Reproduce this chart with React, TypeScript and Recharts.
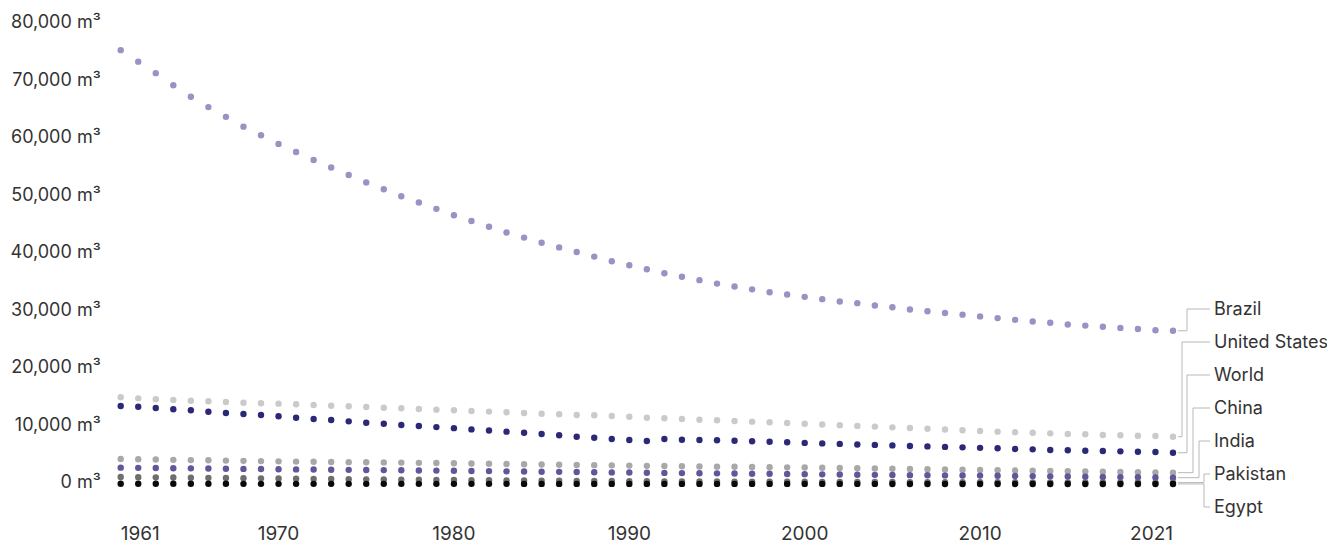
import React from 'react';
import { LineChart, Line, XAxis, YAxis } from 'recharts';

const years: number[] = Array.from({ length: 61 }, (_, i) => 1961 + i);

const brazil = [
  75450, 73450, 71450, 69350, 67350, 65550, 63850, 62150, 60650, 59150,
  57750, 56350, 55050, 53750, 52450, 51250, 50050, 48950, 47850, 46750,
  45750, 44750, 43750, 42850, 41950, 41150, 40350, 39550, 38750, 38050,
  37350, 36650, 36050, 35450, 34850, 34350, 33850, 33350, 32950, 32550,
  32150, 31750, 31450, 31050, 30750, 30350, 30050, 29750, 29450, 29150,
  28850, 28550, 28250, 28050, 27750, 27550, 27350, 27150, 26950, 26750, 26650,
];
const unitedStates = [
  15080, 14900, 14730, 14610, 14490, 14400, 14260, 14140, 14040, 13970,
  13860, 13740, 13620, 13510, 13390, 13270, 13170, 13050, 12930, 12820,
  12700, 12590, 12470, 12350, 12230, 12120, 12000, 11950, 11830, 11700,
  11530, 11430, 11300, 11180, 11080, 10960, 10840, 10730, 10610, 10480,
  10350, 10230, 10100, 9980, 9850, 9730, 9600, 9480, 9350, 9230,
  9100, 8990, 8920, 8810, 8700, 8640, 8520, 8470, 8400, 8350, 8230,
];
const world = [
  13560, 13440, 13220, 12990, 12820, 12570, 12350, 12170, 12000, 11770,
  11530, 11300, 11130, 10900, 10660, 10490, 10260, 10080, 9900, 9710,
  9500, 9300, 9100, 8920, 8700, 8470, 8230, 8050, 7830, 7650,
  7480, 7830, 7700, 7650, 7600, 7530, 7430, 7360, 7250, 7150,
  7060, 6970, 6880, 6800, 6710, 6620, 6540, 6450, 6370, 6290,
  6210, 6090, 6030, 5910, 5860, 5790, 5740, 5680, 5620, 5560, 5440,
];
const china = [
  4350, 4310, 4250, 4200, 4160, 4120, 4070, 4030, 3980, 3940,
  3900, 3860, 3830, 3800, 3780, 3760, 3720, 3680, 3640, 3600,
  3560, 3520, 3480, 3440, 3400, 3360, 3320, 3280, 3240, 3200,
  3160, 3120, 3080, 3050, 3020, 2990, 2960, 2930, 2900, 2860,
  2820, 2780, 2740, 2700, 2660, 2620, 2580, 2540, 2500, 2450,
  2380, 2340, 2300, 2250, 2210, 2170, 2130, 2090, 2050, 2010, 1970,
];
const india = [
  2840, 2810, 2780, 2750, 2720, 2690, 2660, 2630, 2600, 2570,
  2540, 2510, 2490, 2460, 2440, 2420, 2390, 2360, 2330, 2300,
  2270, 2240, 2200, 2170, 2140, 2110, 2080, 2050, 2020, 1990,
  1960, 1930, 1900, 1870, 1850, 1820, 1790, 1770, 1740, 1710,
  1680, 1650, 1620, 1590, 1570, 1540, 1520, 1500, 1480, 1460,
  1440, 1400, 1370, 1330, 1300, 1260, 1230, 1200, 1170, 1130, 1100,
];
const pakistan = [
  1220, 1190, 1160, 1130, 1100, 1070, 1040, 1010, 980, 950,
  920, 890, 860, 840, 810, 790, 760, 740, 710, 690,
  670, 640, 620, 600, 580, 560, 540, 520, 510, 490,
  480, 460, 450, 440, 430, 420, 410, 400, 390, 380,
  370, 360, 350, 345, 340, 330, 325, 320, 310, 305,
  300, 295, 290, 285, 280, 275, 265, 260, 255, 245, 240,
];
const egypt = [
  36, 35, 34, 33, 32, 31, 31, 30, 29, 29,
  28, 27, 27, 26, 26, 25, 25, 24, 24, 23,
  23, 22, 22, 21, 21, 20, 20, 19, 19, 18,
  18, 17, 17, 17, 16, 16, 16, 15, 15, 15,
  14, 14, 14, 14, 13, 13, 13, 13, 12, 12,
  12, 11, 11, 11, 11, 10, 10, 10, 10, 10, 10,
];

const xTicks = [1961, 1970, 1980, 1990, 2000, 2010, 2021];
const yTicks = [0, 10000, 20000, 30000, 40000, 50000, 60000, 70000, 80000];

const data = years.map((year, i) => ({
  year,
  brazil: brazil[i],
  unitedStates: unitedStates[i],
  world: world[i],
  china: china[i],
  india: india[i],
  pakistan: pakistan[i],
  egypt: egypt[i],
}));

const FONT = 'Inter, "Noto Sans", sans-serif';
const TEXT = '#333333';
const CONNECTOR = '#b8b8b8';
const TEXT_X = 1206;
const FS = 18;
const XFS = 19;

const series = [
  { key: 'brazil', name: 'Brazil', color: '#9a91c4', bendX: 1179, labelY: 301 },
  { key: 'unitedStates', name: 'United States', color: '#cacaca', bendX: 1174, labelY: 334 },
  { key: 'world', name: 'World', color: '#2c2878', bendX: 1179, labelY: 367 },
  { key: 'china', name: 'China', color: '#a8a8a8', bendX: 1185, labelY: 400 },
  { key: 'india', name: 'India', color: '#5f579c', bendX: 1191, labelY: 433 },
  { key: 'pakistan', name: 'Pakistan', color: '#6e6e6e', bendX: 1196, labelY: 466 },
  { key: 'egypt', name: 'Egypt', color: '#0a0a0a', bendX: 1196, labelY: 499 },
];

const XTick = (props: any) => {
  const { x, y, payload } = props;
  const v = payload.value;
  const anchor = v === xTicks[0] ? 'start' : v === xTicks[xTicks.length - 1] ? 'end' : 'middle';
  return (
    <text x={x} y={y} textAnchor={anchor} fill={TEXT} fontSize={XFS} fontFamily={FONT}>
      {v}
    </text>
  );
};

const YTick = (props: any) => {
  const { x, y, payload } = props;
  return (
    <text x={x} y={y - 2} dy="0.355em" textAnchor="end" fill={TEXT} fontSize={FS} fontFamily={FONT}>
      {`${payload.value.toLocaleString('en-US')} m³`}
    </text>
  );
};

const makeDot = (s: typeof series[number]) => (p: any) => {
  const { cx, cy, index } = p;
  const last = index === years.length - 1;
  return (
    <g key={`${s.key}-${index}`}>
      <circle cx={cx} cy={cy} r={3.2} fill={s.color} />
      {last && (
        <>
          <path
            d={`M${cx + 5},${cy}H${s.bendX}V${s.labelY}H${TEXT_X - 4}`}
            fill="none"
            stroke={CONNECTOR}
            strokeWidth={1}
          />
          <text x={TEXT_X} y={s.labelY} dy="0.355em" fill={TEXT} fontSize={FS} fontFamily={FONT}>
            {s.name}
          </text>
        </>
      )}
    </g>
  );
};

export default function App() {
  return (
    <div>
      <style>{`body{margin:8px;overflow:hidden;background:#fff}`}</style>
      <LineChart
        width={1319}
        height={534}
        data={data}
        margin={{ top: 16, right: 154, bottom: 0, left: 0 }}
      >
        <XAxis
          dataKey="year"
          type="number"
          domain={[1961, 2021]}
          ticks={xTicks}
          axisLine={false}
          tickLine={false}
          tickSize={0}
          tickMargin={56}
          height={58}
          tick={<XTick />}
          interval={0}
        />
        <YAxis
          type="number"
          domain={[0, 80000]}
          ticks={yTicks}
          axisLine={false}
          tickLine={false}
          tickSize={0}
          tickMargin={20}
          width={112.7}
          tick={<YTick />}
          interval={0}
        />
        {series.map((s) => (
          <Line
            key={s.key}
            dataKey={s.key}
            name={s.name}
            stroke="none"
            strokeWidth={0}
            dot={makeDot(s)}
            activeDot={false}
            isAnimationActive={false}
          />
        ))}
      </LineChart>
    </div>
  );
}
